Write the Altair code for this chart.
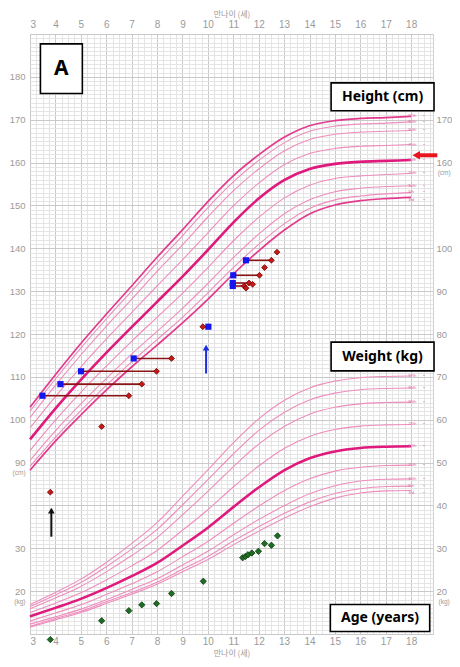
import altair as alt
import pandas as pd

# ---------------- data ----------------
ages = list(range(3, 19))
pct_names = ["3rd", "5th", "10th", "25th", "50th", "75th", "90th", "95th", "97th"]

# height percentiles (cm)
h_p3 = [88.2, 95.0, 101.1, 106.9, 112.3, 117.4, 122.6, 128.1, 134.0, 139.4, 144.2, 148.0, 150.1, 151.1, 151.6, 151.9]
h_p5 = [89.1, 95.9, 102.1, 108.0, 113.5, 118.7, 123.9, 129.6, 135.5, 140.9, 145.7, 149.3, 151.3, 152.2, 152.7, 153.0]
h_p10 = [90.5, 97.4, 103.7, 109.6, 115.3, 120.6, 126.0, 131.8, 137.8, 143.3, 148.0, 151.3, 153.2, 154.0, 154.4, 154.6]
h_p25 = [92.8, 99.9, 106.4, 112.5, 118.3, 123.9, 129.5, 135.5, 141.7, 147.2, 151.7, 154.7, 156.3, 156.9, 157.2, 157.5]
h_p50 = [95.4, 102.6, 109.3, 115.6, 121.6, 127.5, 133.4, 139.6, 146.0, 151.6, 155.9, 158.5, 159.7, 160.2, 160.4, 160.6]
h_p75 = [98.1, 105.4, 112.3, 118.8, 125.0, 131.2, 137.3, 143.6, 149.9, 155.2, 159.5, 162.1, 163.3, 163.8, 164.0, 164.2]
h_p90 = [100.5, 108.0, 115.1, 121.8, 128.1, 134.6, 140.8, 147.3, 153.4, 158.5, 162.7, 165.4, 166.6, 167.1, 167.3, 167.5]
h_p95 = [102.0, 109.5, 116.7, 123.5, 130.0, 136.6, 142.9, 149.5, 155.5, 160.5, 164.6, 167.3, 168.5, 169.0, 169.2, 169.5]
h_p97 = [102.9, 110.5, 117.8, 124.6, 131.2, 137.9, 144.3, 150.9, 156.9, 161.8, 165.9, 168.6, 169.8, 170.3, 170.5, 170.8]

# weight percentiles (kg)
w_p3 = [11.6, 13.3, 15.0, 17.1, 19.3, 21.6, 24.5, 27.4, 30.8, 34.0, 37.0, 39.7, 41.7, 42.9, 43.4, 43.5]
w_p5 = [11.8, 13.6, 15.3, 17.5, 19.7, 22.1, 25.1, 28.1, 31.7, 35.0, 38.1, 40.8, 42.8, 43.9, 44.4, 44.5]
w_p10 = [12.3, 14.0, 15.8, 18.0, 20.4, 22.9, 26.1, 29.3, 33.1, 36.7, 39.9, 42.7, 44.6, 45.7, 46.1, 46.2]
w_p25 = [13.0, 14.9, 16.8, 19.2, 21.7, 24.5, 28.0, 31.6, 35.8, 39.8, 43.4, 46.2, 48.0, 48.9, 49.3, 49.4]
w_p50 = [14.1, 16.1, 18.2, 20.7, 23.5, 26.6, 30.6, 34.8, 39.6, 44.2, 48.2, 51.0, 52.6, 53.4, 53.7, 53.8]
w_p75 = [15.0, 17.2, 19.6, 22.6, 25.9, 29.5, 34.2, 39.0, 44.3, 49.2, 53.3, 56.1, 57.7, 58.5, 58.8, 58.9]
w_p90 = [15.9, 18.4, 21.1, 24.5, 28.3, 32.5, 37.8, 43.3, 49.0, 54.3, 58.4, 61.3, 62.9, 63.7, 64.0, 64.1]
w_p95 = [16.4, 19.1, 22.0, 25.7, 29.8, 34.4, 40.1, 46.0, 52.0, 57.5, 61.7, 64.6, 66.2, 67.0, 67.3, 67.4]
w_p97 = [16.9, 19.7, 22.8, 26.7, 31.1, 36.0, 42.1, 48.3, 54.6, 60.2, 64.5, 67.4, 69.0, 69.8, 70.1, 70.2]

# patient measurements
pair_start_age = [3.49, 4.20, 5.01, 7.08, 9.80, 10.98, 10.98, 11.00, 11.50]
pair_end_age = [6.89, 7.40, 7.98, 8.57, 10.02, 11.62, 11.43, 12.03, 12.50]
pair_height = [105.6, 108.3, 111.3, 114.3, 121.7, 131.9, 131.2, 133.7, 137.2]

blue_age = [3.49, 4.20, 5.01, 7.08, 10.02, 10.98, 10.98, 11.00, 11.50]
blue_height = [105.6, 108.3, 111.3, 114.3, 121.7, 131.9, 131.2, 133.7, 137.2]

red_age = [6.89, 7.40, 7.98, 8.57, 9.80, 11.62, 11.43, 12.03, 12.50, 11.76, 11.50, 12.23, 12.72, 5.82, 3.80]
red_height = [105.6, 108.3, 111.3, 114.3, 121.7, 131.9, 131.2, 133.7, 137.2, 131.6, 130.7, 135.5, 139.1, 98.4, 83.1]

green_age = [3.80, 5.82, 6.89, 7.40, 7.98, 8.57, 9.82, 11.37, 11.48, 11.58, 11.73, 11.99, 12.23, 12.50, 12.74]
green_weight = [8.7, 13.1, 15.45, 16.8, 17.1, 19.45, 22.3, 27.8, 28.1, 28.5, 28.9, 29.3, 31.1, 30.7, 32.9]

target_height = [161.7]

# ---------------- tables ----------------
h_sets = [h_p3, h_p5, h_p10, h_p25, h_p50, h_p75, h_p90, h_p95, h_p97]
w_sets = [w_p3, w_p5, w_p10, w_p25, w_p50, w_p75, w_p90, w_p95, w_p97]
rows = []
for name, hs, ws in zip(pct_names, h_sets, w_sets):
    for a, hv, wv in zip(ages, hs, ws):
        rows.append({"age": a, "pct": name, "kind": "h", "val": hv, "off": 0})
        rows.append({"age": a, "pct": name, "kind": "w", "val": wv, "off": 40})
curves = pd.DataFrame(rows)
curves["series"] = curves["kind"] + curves["pct"]
curves["style"] = "thin"
curves.loc[(curves["kind"] == "h") & curves["pct"].isin(["3rd", "97th"]), "style"] = "mid"
curves.loc[curves["pct"] == "50th", "style"] = "thick"
curves["pos"] = curves["val"] + curves["off"]
ends = curves[curves["age"] == 18].copy()
# small vertical nudge so the crowded 3rd / 5th labels do not collide
ends["lpos"] = ends["pos"]
ends.loc[ends["pct"] == "3rd", "lpos"] -= 0.7
ends.loc[ends["pct"] == "5th", "lpos"] += 0.15

pairs = pd.DataFrame({"a0": pair_start_age, "a1": pair_end_age, "h": pair_height})
blue = pd.DataFrame({"age": blue_age, "h": blue_height})
red = pd.DataFrame({"age": red_age, "h": red_height})
green = pd.DataFrame({"age": green_age, "w": green_weight})

xs = alt.Scale(domain=[3, 18.86], nice=False, zero=False)
ys = alt.Scale(domain=[50, 190], nice=False, zero=False)

FONT = "Liberation Sans"
KFONT = "Noto Sans CJK KR"
GREY = "#9a9a9a"


def carrier(xaxis, yaxis):
    return alt.Chart(pd.DataFrame({"a": [10.0], "v": [100.0]})).mark_point(opacity=0).encode(
        x=alt.X("a:Q", scale=xs, axis=xaxis),
        y=alt.Y("v:Q", scale=ys, axis=yaxis),
    )


grid_minor = carrier(
    alt.Axis(values=[3 + i * 0.25 for i in range(64)], grid=True, gridColor="#e4e4e4", gridWidth=1,
             labels=False, ticks=False, domain=False, title=None),
    alt.Axis(values=list(range(50, 191)), grid=True, gridColor="#e4e4e4", gridWidth=1,
             labels=False, ticks=False, domain=False, title=None),
)
grid_major = carrier(
    alt.Axis(values=list(range(3, 19)), grid=True, gridColor="#c9c9c9", gridWidth=1,
             labels=False, ticks=False, domain=False, title=None),
    alt.Axis(values=list(range(50, 191, 10)), grid=True, gridColor="#c9c9c9", gridWidth=1,
             labels=False, ticks=False, domain=False, title=None),
)
axes_a = carrier(
    alt.Axis(orient="bottom", values=list(range(3, 19)), grid=False, ticks=False, domain=False,
             labelFontSize=10, labelColor=GREY, labelFont=FONT, labelPadding=2,
             title="만나이 (세)", titleFontSize=8, titleFontWeight="normal", titleColor=GREY,
             titleFont=KFONT, titlePadding=3),
    alt.Axis(orient="left", values=[60, 70, 90, 100, 110, 120, 130, 140, 150, 160, 170, 180],
             labelExpr="datum.value < 80 ? datum.value - 40 : datum.value",
             grid=False, ticks=False, domain=False, labelFontSize=9.5, labelColor=GREY,
             labelFont=FONT, labelPadding=5, title=None),
)
axes_b = carrier(
    alt.Axis(orient="top", values=list(range(3, 19)), grid=False, ticks=False, domain=False,
             labelFontSize=10, labelColor=GREY, labelFont=FONT, labelPadding=5,
             title="만나이 (세)", titleFontSize=8, titleFontWeight="normal", titleColor=GREY,
             titleFont=KFONT, titlePadding=1),
    alt.Axis(orient="right", values=[60, 70, 80, 90, 100, 110, 120, 130, 140, 160, 170],
             labelExpr="datum.value <= 140 ? datum.value - 40 : datum.value",
             grid=False, ticks=False, domain=False, labelFontSize=9.5, labelColor=GREY,
             labelFont=FONT, labelPadding=3, title=None),
)

X = lambda f: alt.X(f, scale=xs, axis=None)
Y = lambda f: alt.Y(f, scale=ys, axis=None)

base_c = alt.Chart(curves)
thin = base_c.transform_filter("datum.style == 'thin'").mark_line(
    color="#ee8dbd", strokeWidth=1.1, interpolate="monotone").encode(
    x=X("age:Q"), y=Y("pos:Q"), detail="series:N")
mid = base_c.transform_filter("datum.style == 'mid'").mark_line(
    color="#e33a8d", strokeWidth=1.7, interpolate="monotone").encode(
    x=X("age:Q"), y=Y("pos:Q"), detail="series:N")
thick = base_c.transform_filter("datum.style == 'thick'").mark_line(
    color="#e0197d", strokeWidth=2.6, interpolate="monotone").encode(
    x=X("age:Q"), y=Y("pos:Q"), detail="series:N")

end_labels = alt.Chart(ends).mark_text(
    align="left", baseline="middle", dx=-3, fontSize=4.2, font=FONT, color="#d9679f").encode(
    x=X("age:Q"), y=Y("lpos:Q"), text="pct:N")
end_dash = alt.Chart(ends).mark_text(
    align="left", baseline="middle", dx=12, fontSize=4.5, fontWeight="bold", font=FONT,
    color="#e0508f").encode(x=X("age:Q"), y=Y("lpos:Q"), text=alt.value("-"))

pair_lines = alt.Chart(pairs).mark_rule(color="#8b1515", strokeWidth=1.6).encode(
    x=X("a0:Q"), x2="a1:Q", y=Y("h:Q"))
blue_pts = alt.Chart(blue).mark_point(shape="square", filled=True, size=38, color="#1515ee",
                                      opacity=1).encode(x=X("age:Q"), y=Y("h:Q"))
red_pts = alt.Chart(red).mark_point(shape="diamond", filled=True, size=34, fill="#c81818",
                                    stroke="#6e0000", strokeWidth=0.8, opacity=1).encode(
    x=X("age:Q"), y=Y("h:Q"))
green_pts = alt.Chart(green).transform_calculate(pos="datum.w + 40").mark_point(
    shape="diamond", filled=True, size=40, fill="#1f6b24", stroke="#0f3d12", strokeWidth=0.8,
    opacity=1, clip=False).encode(x=X("age:Q"), y=Y("pos:Q"))

# arrows
arrow_shafts = pd.DataFrame({"a": [3.84, 9.93], "y0": [72.7, 110.8], "y1": [78.6, 116.6],
                             "c": ["black", "blue"]})
arrow_heads = pd.DataFrame({"a": [3.84, 9.93], "y": [78.8, 116.8], "c": ["black", "blue"]})
arrow_scale = alt.Scale(domain=["black", "blue"], range=["#111111", "#1a2ee0"])
shafts = alt.Chart(arrow_shafts).mark_rule(strokeWidth=2).encode(
    x=X("a:Q"), y=Y("y0:Q"), y2="y1:Q",
    color=alt.Color("c:N", scale=arrow_scale, legend=None))
heads = alt.Chart(arrow_heads).mark_point(shape="triangle-up", filled=True, size=45, opacity=1).encode(
    x=X("a:Q"), y=Y("y:Q"),
    color=alt.Color("c:N", scale=arrow_scale, legend=None))

target = pd.DataFrame({"a0": [18.2], "a1": [19.03], "h": target_height})
target_line = alt.Chart(target).mark_rule(color="#e8141e", strokeWidth=4, clip=False).encode(
    x=X("a0:Q"), x2="a1:Q", y=Y("h:Q"))
target_head = alt.Chart(target).mark_point(shape="triangle-left", filled=True, size=75,
                                           color="#e8141e", opacity=1, clip=False).encode(
    x=X("a0:Q"), y=Y("h:Q"))

# unit notes
notes = pd.DataFrame({"a": [2.57, 2.6, 19.3, 19.3], "y": [87.6, 57.4, 157.6, 57.4],
                      "t": ["(cm)", "(kg)", "(cm)", "(kg)"]})
note_text = alt.Chart(notes).mark_text(fontSize=6.5, color=GREY, font=FONT, clip=False).encode(
    x=X("a:Q"), y=Y("y:Q"), text="t:N")

# label boxes
boxes = pd.DataFrame({
    "x0": [3.41, 14.85, 14.85, 14.82],
    "x1": [5.06, 18.90, 18.90, 18.73],
    "y0": [187.7, 178.6, 118.1, 56.9],
    "y1": [176.1, 172.1, 111.4, 50.6],
    "t": ["A", "Height (cm)", "Weight (kg)", "Age (years)"],
    "fs": [21, 14, 14, 14],
})
boxes["xm"] = (boxes["x0"] + boxes["x1"]) / 2
boxes["ym"] = (boxes["y0"] + boxes["y1"]) / 2
box_rect = alt.Chart(boxes).mark_rect(fill="white", stroke="black", strokeWidth=1.6, clip=False).encode(
    x=X("x0:Q"), x2="x1:Q", y=Y("y0:Q"), y2="y1:Q")
box_text = alt.Chart(boxes).mark_text(fontWeight="bold", font="Noto Sans", color="black",
                                      baseline="middle", clip=False).encode(
    x=X("xm:Q"), y=Y("ym:Q"), text="t:N",
    size=alt.Size("fs:Q", scale=None, legend=None))

chart = alt.layer(
    grid_minor, grid_major, axes_a, axes_b,
    thin, mid, thick, end_labels, end_dash,
    pair_lines, blue_pts, red_pts, green_pts,
    shafts, heads, target_line, target_head, note_text,
    box_rect, box_text,
).resolve_axis(x="independent", y="independent").properties(
    width=403, height=600,
    autosize=alt.AutoSizeParams(type="none"),
    padding={"left": 22, "top": 26, "right": 19, "bottom": 25},
).configure_view(stroke="#cfcfcf", strokeWidth=1)

chart.save("out.html", embed_options={"renderer": "svg", "actions": False})
